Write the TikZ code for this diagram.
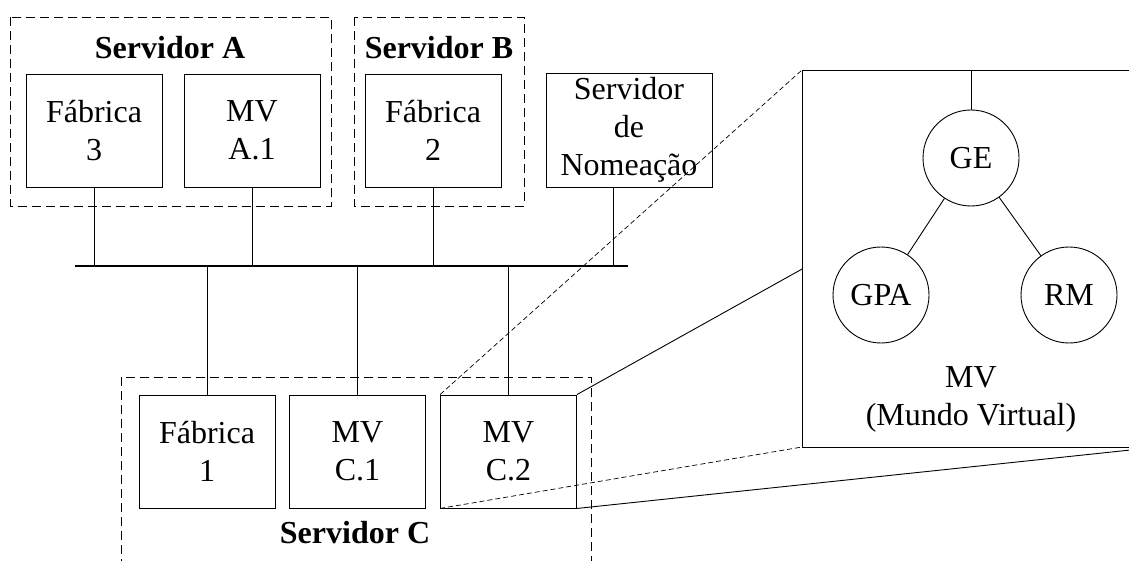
\documentclass[tikz,border=0pt]{standalone}
\usepackage{fontspec}
\setmainfont{Liberation Serif}
\begin{document}
\begin{tikzpicture}[x=1pt, y=-1pt, line width=0.9pt,
  every node/.style={font=\fontsize{32}{38}\selectfont, align=center},
  box/.style={draw, minimum width=136pt, minimum height=113pt, inner sep=0pt},
  group/.style={draw, dash pattern=on 9pt off 5pt},
  grouplabel/.style={font=\fontsize{32}{38}\selectfont\bfseries},
  zoomline/.style={line width=0.7pt, dash pattern=on 5pt off 3pt},
  proc/.style={circle, draw, minimum size=96pt, inner sep=0pt}]
\useasboundingbox (0,0) rectangle (1129,561);
\clip (0,0) rectangle (1129,561);

% servers
\draw[group] (10.7,17) rectangle (331,206);
\draw[group] (354,17) rectangle (524,206);
\draw[group] (121,377) rectangle (591,600);
\node[grouplabel] (labA) at (170,48) {Servidor A};
\node[grouplabel] (labB) at (439,48) {Servidor B};
\node[grouplabel] (labC) at (355,533) {Servidor C};

\node[box] (fab3) at (94,130.5) {Fábrica\\3};
\node[box] (mva1) at (252,130.5) {MV\\A.1};
\node[box] (fab2) at (433,130.5) {Fábrica\\2};
\node[box, minimum width=166pt, minimum height=114pt] (nome) at (629,130) {Servidor\\de\\Nomeação};
\node[box] (fab1) at (207,451.5) {Fábrica\\1};
\node[box] (mvc1) at (357.5,451.5) {MV\\C.1};
\node[box] (mvc2) at (508.5,451.5) {MV\\C.2};

% network
\coordinate (busL) at (75,266);
\coordinate (busR) at (628,266);
\coordinate (nomeport) at ([xshift=-16pt]nome.south);
\draw[line width=1.8pt] (busL) -- (busR);
\draw (fab3.south) -- (fab3.south |- busL);
\draw (mva1.south) -- (mva1.south |- busL);
\draw (fab2.south) -- (fab2.south |- busL);
\draw (nomeport) -- (nomeport |- busL);
\draw (fab1.north) -- (fab1.north |- busL);
\draw (mvc1.north) -- (mvc1.north |- busL);
\draw (mvc2.north) -- (mvc2.north |- busL);

% zoom of MV C.2
\coordinate (mvNW) at (802,70);
\coordinate (mvNE) at (1159,70);
\coordinate (mvSW) at (802,447);
\coordinate (mvSE) at (1159,447);
\draw[zoomline] (mvc2.north west) -- (mvNW);
\draw[zoomline] (mvc2.south west) -- (mvSW);
\draw (mvc2.north east) -- (mvNE);
\draw (mvc2.south east) -- (mvSE);
\draw[fill=white] (mvNW) rectangle (mvSE);

\node[proc] (ge) at (971,158) {GE};
\node[proc] (gpa) at (881,295) {GPA};
\node[proc] (rm) at (1069,295) {RM};
\draw (ge.north |- mvNW) -- (ge);
\draw (ge) -- (gpa);
\draw (ge) -- (rm);
\node (mvlabel) at (971,399) {MV\\(Mundo Virtual)};
\end{tikzpicture}
\end{document}
